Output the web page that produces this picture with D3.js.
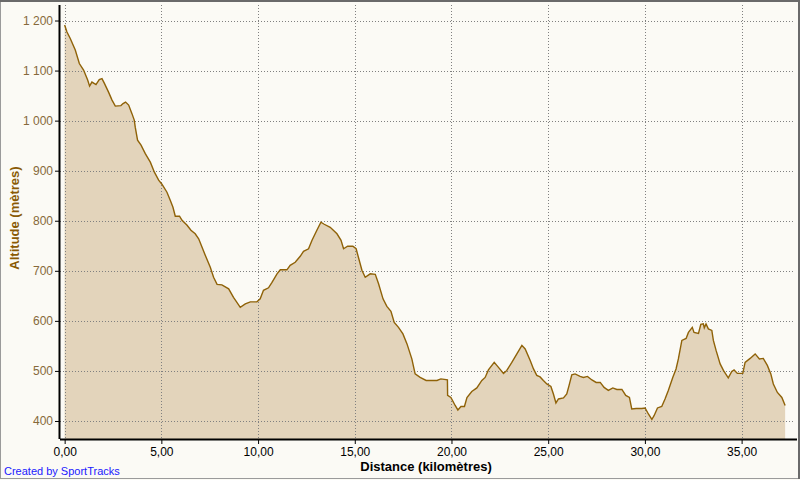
<!DOCTYPE html>
<html><head><meta charset="utf-8">
<script src="https://cdn.jsdelivr.net/npm/d3@7"></script>
<style>html,body{margin:0;padding:0;background:#fbfaf5;}svg{display:block;}</style>
</head><body>
<svg id="c" width="800" height="480"></svg>
<script>
const distances = [0.00,0.12,0.29,0.55,0.76,0.98,1.19,1.29,1.41,1.62,1.79,1.93,2.05,2.27,2.45,2.62,2.91,3.02,3.15,3.31,3.48,3.60,3.65,3.77,3.95,4.17,4.43,4.64,4.86,5.03,5.29,5.46,5.60,5.72,5.94,6.07,6.33,6.53,6.75,6.93,7.27,7.53,7.70,7.88,8.13,8.48,8.73,9.08,9.34,9.60,9.94,10.11,10.28,10.54,10.72,10.98,11.15,11.49,11.66,11.92,12.18,12.35,12.61,12.79,13.04,13.25,13.42,13.73,14.08,14.29,14.42,14.63,14.90,15.07,15.23,15.37,15.54,15.80,16.06,16.23,16.46,16.66,16.87,17.04,17.26,17.49,17.70,17.95,18.12,18.38,18.69,19.25,19.45,19.79,19.80,19.97,20.19,20.33,20.49,20.67,20.80,21.05,21.31,21.57,21.74,21.91,22.21,22.43,22.69,22.86,23.12,23.38,23.64,23.81,24.07,24.24,24.41,24.58,24.75,24.93,25.14,25.27,25.40,25.53,25.79,25.96,26.08,26.22,26.39,26.65,26.82,27.03,27.26,27.48,27.69,27.89,28.11,28.34,28.55,28.81,29.01,29.20,29.32,29.55,29.84,30.01,30.18,30.36,30.48,30.65,30.87,31.04,31.21,31.44,31.61,31.73,31.91,32.13,32.25,32.45,32.54,32.77,32.89,33.02,33.07,33.16,33.28,33.46,33.54,33.68,33.89,34.06,34.31,34.49,34.61,34.78,35.06,35.18,35.44,35.70,35.92,36.12,36.33,36.51,36.64,36.85,37.08,37.25];
const altitudes = [1191,1177,1164,1141,1114,1101,1081,1069,1077,1072,1082,1084,1075,1057,1041,1029,1030,1034,1037,1031,1014,1001,987,961,951,934,917,897,881,873,857,841,827,809,809,801,791,781,774,764,731,707,687,673,672,664,647,627,634,638,638,644,661,666,677,694,702,702,711,717,729,739,744,761,781,797,793,787,774,761,744,749,749,744,721,701,687,694,693,674,644,629,619,597,587,574,554,524,494,487,481,481,484,482,451,447,431,422,429,429,447,459,466,481,487,502,517,507,495,501,517,534,551,544,521,504,491,488,481,474,469,454,436,444,446,454,471,492,494,489,487,489,482,477,477,467,461,466,463,463,451,447,424,425,425,426,414,403,411,426,429,444,461,487,504,524,561,565,577,587,577,575,593,594,586,594,584,581,561,541,514,501,486,499,502,495,495,517,525,534,524,525,511,494,474,457,447,431];
const xTicks = [0,5,10,15,20,25,30,35];
const yTicks = [400,500,600,700,800,900,1000,1100,1200];
const xTitle = "Distance (kilomètres)";
const yTitle = "Altitude (mètres)";
const credit = "Created by SportTracks";

const data = distances.map((d,i)=>({d, a: altitudes[i]}));
const svg = d3.select("#c");
const L = 60, R = 795, T = 5, B = 439;
const x = d3.scaleLinear().domain([-0.24, 37.76]).range([L, R]);
const y = d3.scaleLinear().domain([364, 1231]).range([B, T]);

svg.append("rect").attr("x",0).attr("y",0).attr("width",800).attr("height",480).attr("fill","#fbfaf5");

// area
svg.append("path").datum(data)
  .attr("d", d3.area().x(p=>x(p.d)).y0(B).y1(p=>y(p.a)))
  .attr("fill","#e3d4bb");

// grid
const g = svg.append("g").attr("stroke","#808080").attr("stroke-width",1).attr("stroke-dasharray","1,2").attr("shape-rendering","crispEdges");
xTicks.forEach(t=>{ g.append("line").attr("x1",Math.round(x(t))+0.5).attr("x2",Math.round(x(t))+0.5).attr("y1",T).attr("y2",B); });
yTicks.forEach(t=>{ g.append("line").attr("y1",Math.round(y(t))+0.5).attr("y2",Math.round(y(t))+0.5).attr("x1",L).attr("x2",793); });

// line
svg.append("path").datum(data)
  .attr("d", d3.line().x(p=>x(p.d)).y(p=>y(p.a)))
  .attr("fill","none").attr("stroke","#8f6208").attr("stroke-width",1.4).attr("stroke-linejoin","miter");

// axes
const xAxis = d3.axisBottom(x).tickValues(xTicks).tickSize(5).tickPadding(3)
  .tickFormat(v=>d3.format(".2f")(v).replace(".",","));
const xa = svg.append("g").attr("transform",`translate(0,${B})`).call(xAxis);
xa.select(".domain").attr("d",`M${L},0.5H797`).attr("stroke","#000").attr("stroke-width",2);
xa.selectAll(".tick line").attr("stroke","#000");
xa.selectAll(".tick text").attr("fill","#000").attr("font-family","'Liberation Sans', Arial, sans-serif").attr("font-size","12px");

const yAxis = d3.axisLeft(y).tickValues(yTicks).tickSize(5).tickPadding(2)
  .tickFormat(v=>d3.format(",")(v).replace(/,/g," "));
const ya = svg.append("g").attr("transform",`translate(${L},0)`).call(yAxis);
ya.select(".domain").attr("d",`M-0.5,${T}V${B}`).attr("stroke","#000").attr("stroke-width",2);
ya.selectAll(".tick line").attr("stroke","#000");
ya.selectAll(".tick text").attr("fill","#86693a").attr("font-family","'Liberation Sans', Arial, sans-serif").attr("font-size","12px");

// titles
svg.append("text").attr("x",426).attr("y",471).attr("text-anchor","middle")
  .attr("font-family","'Liberation Sans', Arial, sans-serif").attr("font-weight","bold").attr("font-size","13px")
  .attr("fill","#000").text(xTitle);
svg.append("text").attr("transform","translate(19,218) rotate(-90)").attr("text-anchor","middle")
  .attr("font-family","'Liberation Sans', Arial, sans-serif").attr("font-weight","bold").attr("font-size","13px")
  .attr("fill","#8a5a05").text(yTitle);
svg.append("text").attr("x",4).attr("y",475)
  .attr("font-family","'Liberation Sans', Arial, sans-serif").attr("font-size","11px")
  .attr("fill","#2020ff").text(credit);

// border
svg.append("rect").attr("x",0.5).attr("y",0.5).attr("width",798).attr("height",478)
  .attr("fill","none").attr("stroke","#9a9a9a");
svg.append("path").attr("d","M0,1H799V479").attr("fill","none").attr("stroke","#6a6a6a").attr("stroke-width",2);
</script>
</body></html>
